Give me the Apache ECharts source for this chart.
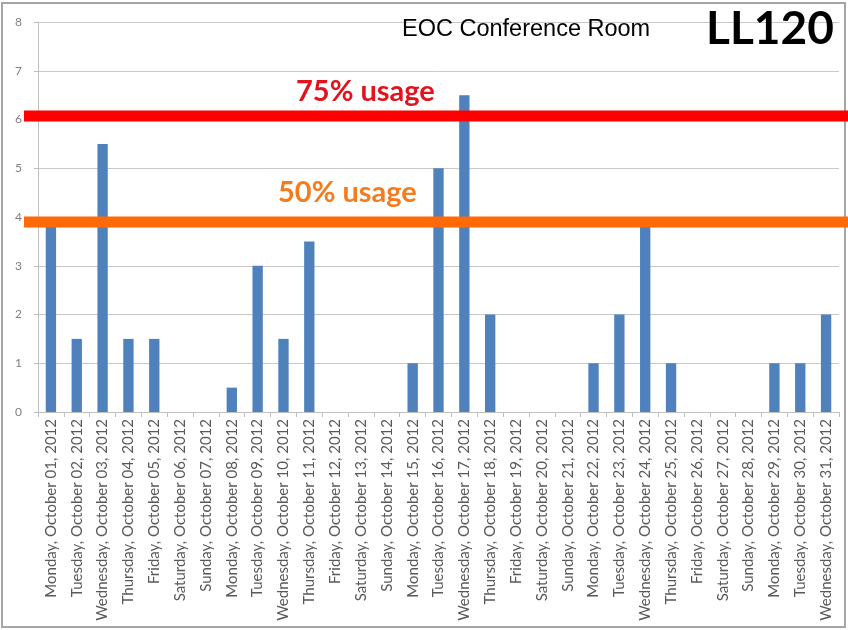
<!DOCTYPE html>
<html>
<head>
<meta charset="utf-8">
<script src="https://cdn.jsdelivr.net/npm/echarts@6/dist/echarts.min.js"></script>
<style>
html,body{margin:0;padding:0;background:#fff;}
#c{width:848px;height:630px;}
</style>
</head>
<body>
<div id="c"></div>
<script>
const categories = [
  "Monday, October 01, 2012","Tuesday, October 02, 2012","Wednesday, October 03, 2012","Thursday, October 04, 2012",
  "Friday, October 05, 2012","Saturday, October 06, 2012","Sunday, October 07, 2012","Monday, October 08, 2012",
  "Tuesday, October 09, 2012","Wednesday, October 10, 2012","Thursday, October 11, 2012","Friday, October 12, 2012",
  "Saturday, October 13, 2012","Sunday, October 14, 2012","Monday, October 15, 2012","Tuesday, October 16, 2012",
  "Wednesday, October 17, 2012","Thursday, October 18, 2012","Friday, October 19, 2012","Saturday, October 20, 2012",
  "Sunday, October 21, 2012","Monday, October 22, 2012","Tuesday, October 23, 2012","Wednesday, October 24, 2012",
  "Thursday, October 25, 2012","Friday, October 26, 2012","Saturday, October 27, 2012","Sunday, October 28, 2012",
  "Monday, October 29, 2012","Tuesday, October 30, 2012","Wednesday, October 31, 2012"
];
const usage = [3.8,1.5,5.5,1.5,1.5,0,0,0.5,3,1.5,3.5,0,0,0,1,5,6.5,2,0,0,0,1,2,3.8,1,0,0,0,1,1,2];
const yTicks = {min:0, max:8, interval:1};
const level75 = 6.07;
const level50 = 3.9;
const title = "EOC Conference Room";
const roomCode = "LL120";
const label75 = "75% usage";
const label50 = "50% usage";

const chart = echarts.init(document.getElementById('c'), null, {renderer:'canvas'});
chart.setOption({
  animation:false,
  backgroundColor:'#fff',
  grid:{left:38, right:9, top:22, bottom:218, containLabel:false},
  xAxis:{
    type:'category', data:categories,
    axisLine:{lineStyle:{color:'#bfbfbf'}},
    axisTick:{show:true, length:5, lineStyle:{color:'#bfbfbf'}},
    axisLabel:{rotate:90, interval:0, color:'#595959', fontFamily:'Lato', fontSize:15, margin:7}
  },
  yAxis:{
    type:'value', min:yTicks.min, max:yTicks.max, interval:yTicks.interval,
    axisLine:{show:true, lineStyle:{color:'#bfbfbf'}},
    axisTick:{show:true, length:4, lineStyle:{color:'#bfbfbf'}},
    axisLabel:{color:'#7f7f7f', fontFamily:'Lato', fontSize:12, margin:16},
    splitLine:{lineStyle:{color:'#c8c8c8', width:1}}
  },
  series:[{
    type:'bar', data:usage, barWidth:'40%',
    itemStyle:{color:'#4F81BD'}
  }],
  graphic:[
    {type:'rect', id:'frame', shape:{x:2, y:3, width:843, height:624}, style:{fill:null, stroke:'#a6a6a6', lineWidth:2}, z:0},
    {type:'text', left:402, top:18, style:{text:title, font:'23.5px "Liberation Sans"', fill:'#000'}, z:100},
    {type:'text', left:706, top:6, style:{text:roomCode, font:'bold 46px Lato', fill:'#000'}, z:100},
    {type:'text', left:296, top:77, style:{text:label75, font:'bold 29px Lato', fill:'#e2131b'}, z:100},
    {type:'text', left:278, top:178, style:{text:label50, font:'bold 29px Lato', fill:'#f47c1c'}, z:100}
  ]
});
const y75 = chart.convertToPixel({yAxisIndex:0}, level75);
const y50 = chart.convertToPixel({yAxisIndex:0}, level50);
chart.setOption({
  graphic:[
    {type:'rect', id:'r75', shape:{x:24, y:y75-5.5, width:824, height:11}, style:{fill:'#ff0000'}, z:50},
    {type:'rect', id:'r50', shape:{x:24, y:y50-5.5, width:824, height:11}, style:{fill:'#ff6a06'}, z:50}
  ]
});
</script>
</body>
</html>
